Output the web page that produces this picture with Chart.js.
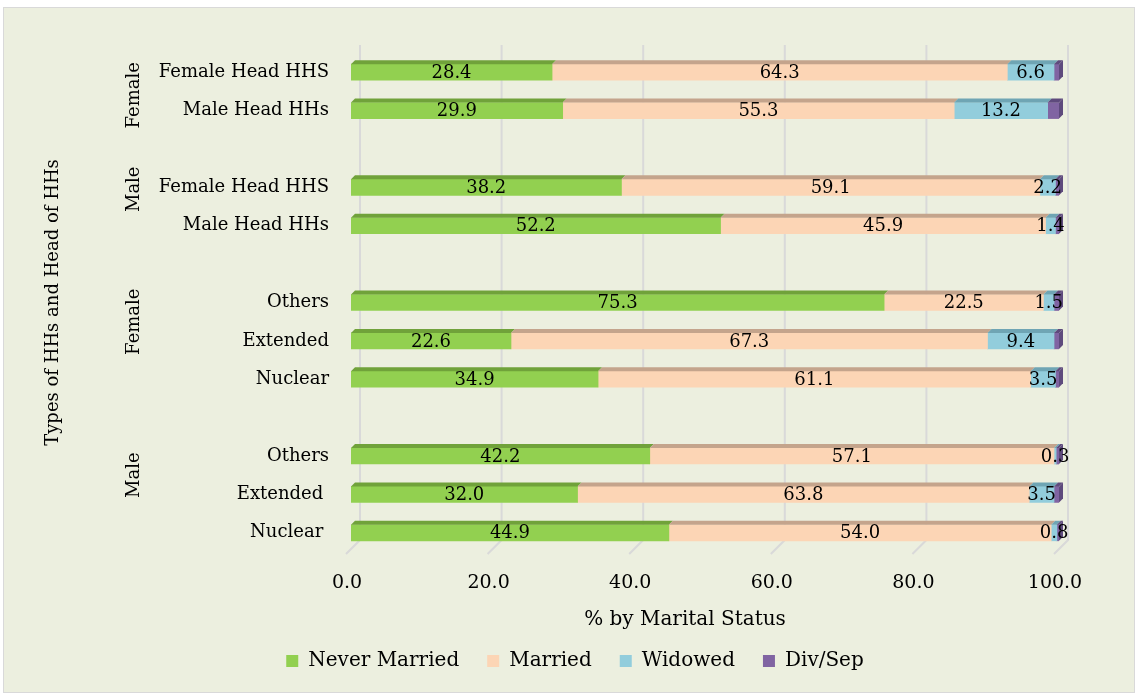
<!DOCTYPE html>
<html lang="en">
<head>
<meta charset="UTF-8" />
<title>Marital status by type of HH</title>
<script src="https://cdn.jsdelivr.net/npm/chart.js"></script>
<style>
  * { margin: 0; padding: 0; box-sizing: border-box; }
  body { background: #fff; }
  .chart-box { position: relative; width: 1138px; height: 696px; }
</style>
</head>
<body>
<div class="chart-box"><canvas id="maritalChart"></canvas></div>
<script>
// rows listed top to bottom, '' is the spacer row between groups
const rowLabels = ['Female Head HHS', 'Male Head HHs', '', 'Female Head HHS', 'Male Head HHs', '',
  'Others', 'Extended', 'Nuclear', '', 'Others', 'Extended ', 'Nuclear '];
const neverMarried = [28.4, 29.9, null, 38.2, 52.2, null, 75.3, 22.6, 34.9, null, 42.2, 32.0, 44.9];
const married      = [64.3, 55.3, null, 59.1, 45.9, null, 22.5, 67.3, 61.1, null, 57.1, 63.8, 54.0];
const widowed      = [6.6, 13.2, null, 2.2, 1.4, null, 1.5, 9.4, 3.5, null, 0.3, 3.5, 0.8];
const divSep       = [0.7, 1.6, null, 0.5, 0.5, null, 0.7, 0.7, 0.5, null, 0.4, 0.7, 0.3];
const seriesNames = ['Never Married', 'Married', 'Widowed', 'Div/Sep'];
const groupLabels = ['Female', 'Male', 'Female', 'Male'];
const xTicks = [0, 20, 40, 60, 80, 100];

const FONT = 'DejaVu Serif';
const frontColors = ['#92D050', '#FCD5B5', '#92CDDC', '#8064A2'];
const topColors   = ['#70A23A', '#C4A48C', '#6FA5B4', '#5E4A7D'];
// where each group name sits along the category axis (row index units)
const groupRowPos = [0.6, 3.05, 6.5, 10.5];

// page frame + chart background
const framePlugin = {
  id: 'frame',
  beforeDraw(chart) {
    const ctx = chart.ctx;
    ctx.save();
    ctx.fillStyle = '#ECEFDF';
    ctx.fillRect(3, 7, 1131, 685);
    ctx.strokeStyle = '#D9D9D9';
    ctx.lineWidth = 1;
    ctx.strokeRect(3.5, 7.5, 1131, 685);
    ctx.restore();
  }
};

// back wall gridlines with the little floor stubs
const wallPlugin = {
  id: 'wall',
  beforeDatasetsDraw(chart) {
    const {ctx, chartArea, scales: {x}} = chart;
    ctx.save();
    ctx.strokeStyle = '#D9D9D9';
    ctx.lineWidth = 2;
    xTicks.forEach(v => {
      const px = x.getPixelForValue(v);
      ctx.beginPath();
      ctx.moveTo(px + 9, chartArea.top - 8);
      ctx.lineTo(px + 9, chartArea.bottom - 12);
      ctx.lineTo(px - 5, chartArea.bottom + 2);
      ctx.stroke();
    });
    ctx.restore();
  }
};

// top and side faces to fake the 3D bars, then the value labels
const bars3dPlugin = {
  id: 'bars3d',
  afterDatasetsDraw(chart) {
    const ctx = chart.ctx;
    const d = 4;
    ctx.save();
    chart.data.datasets.forEach((ds, di) => {
      const meta = chart.getDatasetMeta(di);
      meta.data.forEach((el, i) => {
        if (ds.data[i] == null) return;
        const p = el.getProps(['x', 'y', 'base', 'height'], true);
        const left = Math.min(p.x, p.base), right = Math.max(p.x, p.base);
        const top = p.y - p.height / 2, bottom = p.y + p.height / 2;
        ctx.fillStyle = topColors[di];
        ctx.beginPath();
        ctx.moveTo(left, top);
        ctx.lineTo(left + d, top - d);
        ctx.lineTo(right + d, top - d);
        ctx.lineTo(right, top);
        ctx.closePath();
        ctx.fill();
        if (di === chart.data.datasets.length - 1) {
          ctx.beginPath();
          ctx.moveTo(right, top);
          ctx.lineTo(right + d, top - d);
          ctx.lineTo(right + d, bottom - d);
          ctx.lineTo(right, bottom);
          ctx.closePath();
          ctx.fill();
        }
      });
    });

    ctx.font = '18px "' + FONT + '"';
    ctx.fillStyle = '#000';
    ctx.textAlign = 'center';
    ctx.textBaseline = 'middle';
    chart.data.datasets.forEach((ds, di) => {
      if (di > 2) return; // Div/Sep has no labels
      chart.getDatasetMeta(di).data.forEach((el, i) => {
        if (ds.data[i] == null) return;
        const p = el.getProps(['x', 'y', 'base'], true);
        ctx.fillText(ds.data[i].toFixed(1), (p.x + p.base) / 2, p.y + 1);
      });
    });
    ctx.restore();
  }
};

// rotated group names and the x axis title
const textPlugin = {
  id: 'extraText',
  afterDraw(chart) {
    const {ctx, scales: {y}} = chart;
    ctx.save();
    ctx.font = '18px "' + FONT + '"';
    ctx.fillStyle = '#000';
    ctx.textAlign = 'center';
    ctx.textBaseline = 'middle';
    groupLabels.forEach((g, i) => {
      ctx.save();
      ctx.translate(134, y.getPixelForValue(groupRowPos[i]));
      ctx.rotate(-Math.PI / 2);
      ctx.fillText(g, 0, 0);
      ctx.restore();
    });
    ctx.font = '20px "' + FONT + '"';
    ctx.fillText('% by Marital Status', 685, 620);
    ctx.restore();
  }
};

const seriesData = [neverMarried, married, widowed, divSep];

new Chart(document.getElementById('maritalChart'), {
  type: 'bar',
  data: {
    labels: rowLabels,
    datasets: seriesNames.map((name, i) => ({
      label: name,
      data: seriesData[i],
      backgroundColor: frontColors[i],
      borderWidth: 0,
      barThickness: 16
    }))
  },
  options: {
    indexAxis: 'y',
    responsive: true,
    maintainAspectRatio: false,
    animation: false,
    layout: { padding: { left: 12, right: 0, top: 53, bottom: 15 } },
    font: { family: FONT, size: 18 },
    plugins: {
      tooltip: { enabled: false },
      legend: {
        position: 'bottom',
        labels: {
          boxWidth: 12,
          boxHeight: 12,
          padding: 28,
          color: '#000',
          font: { family: FONT, size: 20 }
        }
      }
    },
    scales: {
      x: {
        stacked: true,
        min: 0,
        max: 100,
        grid: { display: false, drawTicks: false },
        border: { display: false },
        afterBuildTicks: s => { s.ticks = xTicks.map(v => ({ value: v })); },
        afterFit: s => { s.height = 71; },
        ticks: {
          padding: 20,
          labelOffset: -4,
          color: '#000',
          font: { family: FONT, size: 19 },
          callback: v => Number(v).toFixed(1)
        }
      },
      y: {
        stacked: true,
        grid: { display: false, drawTicks: false },
        border: { display: false },
        afterFit: s => { s.width = 339; },
        ticks: {
          autoSkip: false,
          padding: 22,
          color: '#000',
          font: { family: FONT, size: 18 }
        },
        title: {
          display: true,
          text: 'Types of HHs and Head of HHs',
          color: '#000',
          padding: { top: 31, bottom: 0 },
          font: { family: FONT, size: 18 }
        }
      },
      // empty right-hand margin so the legend centres like the original
      yRight: {
        type: 'category',
        position: 'right',
        grid: { display: false, drawTicks: false },
        border: { display: false },
        ticks: { display: false },
        afterFit: s => { s.width = 79; }
      }
    }
  },
  plugins: [framePlugin, wallPlugin, bars3dPlugin, textPlugin]
});
</script>
</body>
</html>
